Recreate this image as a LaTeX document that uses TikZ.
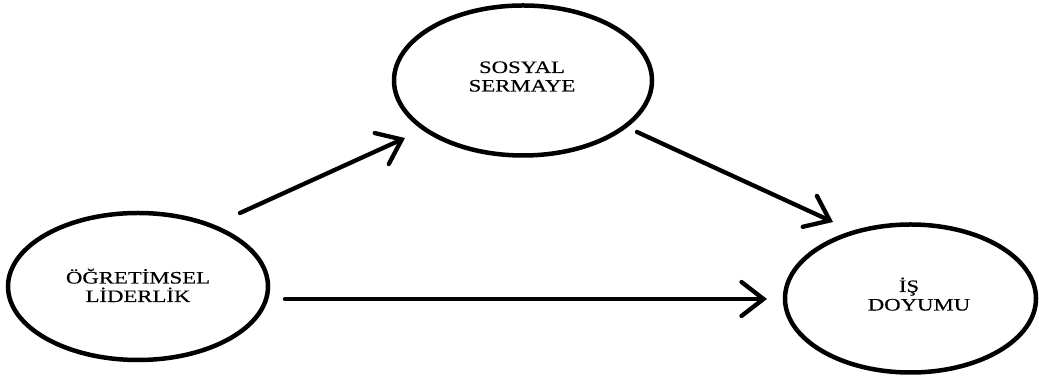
\documentclass[tikz,border=0pt]{standalone}
\usepackage{fontspec}
\newfontfamily\lblfont[FakeStretch=1.3,FakeBold=0.4]{Liberation Serif}
\usetikzlibrary{shapes.geometric,arrows.meta}
\tikzset{
  oval/.style={ellipse, draw=black, line width=4.5pt, inner sep=0pt},
  lbl/.style={align=center, anchor=base, inner sep=0pt,
    font=\lblfont\fontsize{17.5}{18.5}\selectfont},
  arr/.style={line width=4.3pt, line cap=round,
    -{Straight Barb[length=22pt,width=34pt,line cap=round]}}
}
\begin{document}
\begin{tikzpicture}[x=1pt,y=1pt]
\useasboundingbox (0,0) rectangle (1039,379);
\node[oval, minimum width=260pt, minimum height=147pt] (L) at (138,92.5) {};
\node[oval, minimum width=258pt, minimum height=150pt] (T) at (523,298.5) {};
\node[oval, minimum width=251pt, minimum height=148pt] (R) at (910.5,80.5) {};
\node[lbl] (Lt) at (138,77) {ÖĞRETİMSEL\\LİDERLİK};
\node[lbl] (Tt) at (522,287.5) {SOSYAL\\SERMAYE};
\node[lbl] (Rt) at (919,68.5) {\mbox{İŞ\hspace{20pt}}\\DOYUMU};
\draw[arr] ([shift={(102,73.5)}]L.center) -- ([shift={(-118,-57.5)}]T.center);
\draw[arr] ([shift={(114,-51.5)}]T.center) -- ([shift={(-77.5,76.5)}]R.center);
\draw[arr] ([shift={(147,-12.5)}]L.center) -- ([shift={(-143.5,-0.5)}]R.center);
\end{tikzpicture}
\end{document}
